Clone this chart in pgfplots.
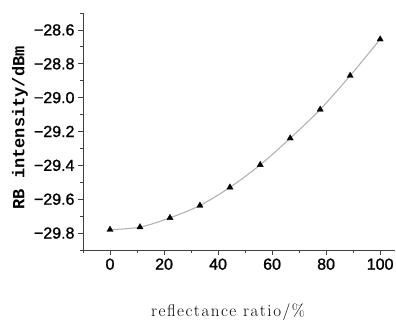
\documentclass[border=0pt]{standalone}
\usepackage{fontspec}
\setmainfont{Liberation Sans}
\newfontfamily\tickfont[FakeBold=1.2]{Liberation Sans}
\newfontfamily\ylabfont{Liberation Mono}
\newfontfamily\xlabfont[LetterSpace=9]{Latin Modern Roman}
\usepackage{pgfplots}
\pgfplotsset{compat=1.18}
\begin{document}
\begin{tikzpicture}
\path[use as bounding box] (-83bp,-72bp) rectangle (313bp,250bp);
\begin{axis}[
  scale only axis,
  width=312bp, height=237bp,
  xmin=-10, xmax=105.5,
  ymin=-29.9, ymax=-28.5,
  axis x line*=bottom, axis y line*=left,
  axis line style={line width=0.9bp, black!75},
  tick align=outside,
  major tick length=5bp, minor tick length=3bp,
  every tick/.style={black!75, line width=0.8bp},
  xtick={0,20,40,60,80,100},
  minor xtick={-10,10,30,50,70,90},
  ytick={-29.8,-29.6,-29.4,-29.2,-29.0,-28.8,-28.6},
  yticklabels={−29.8,−29.6,−29.4,−29.2,−29.0,−28.8,−28.6},
  minor ytick={-29.9,-29.7,-29.5,-29.3,-29.1,-28.9,-28.7,-28.5},
  xticklabels={0,20,40,60,80,100},
  ticklabel style={font=\tickfont\fontsize{16bp}{18bp}\selectfont},
  xlabel={reflectance ratio/\%},
  xlabel style={at={(axis description cs:0.465,-0.262)}, anchor=center, font=\xlabfont\fontsize{17bp}{19bp}\selectfont},
  ylabel={RB intensity/dBm},
  ylabel style={at={(axis description cs:-0.202,0.515)}, anchor=center, font=\ylabfont\bfseries\fontsize{17bp}{19bp}\selectfont},
  clip=false,
]
\addplot[smooth, color=black!30, line width=1.1bp, mark=triangle*, mark size=3.6bp,
  mark options={fill=black, draw=black, line width=0.3bp}]
  coordinates {
  (0,-29.78) (11.1,-29.765) (22.2,-29.71) (33.3,-29.637) (44.4,-29.53)
  (55.6,-29.397) (66.7,-29.24) (77.8,-29.07) (88.9,-28.87) (100,-28.655)
  };
\end{axis}
\end{tikzpicture}
\end{document}
